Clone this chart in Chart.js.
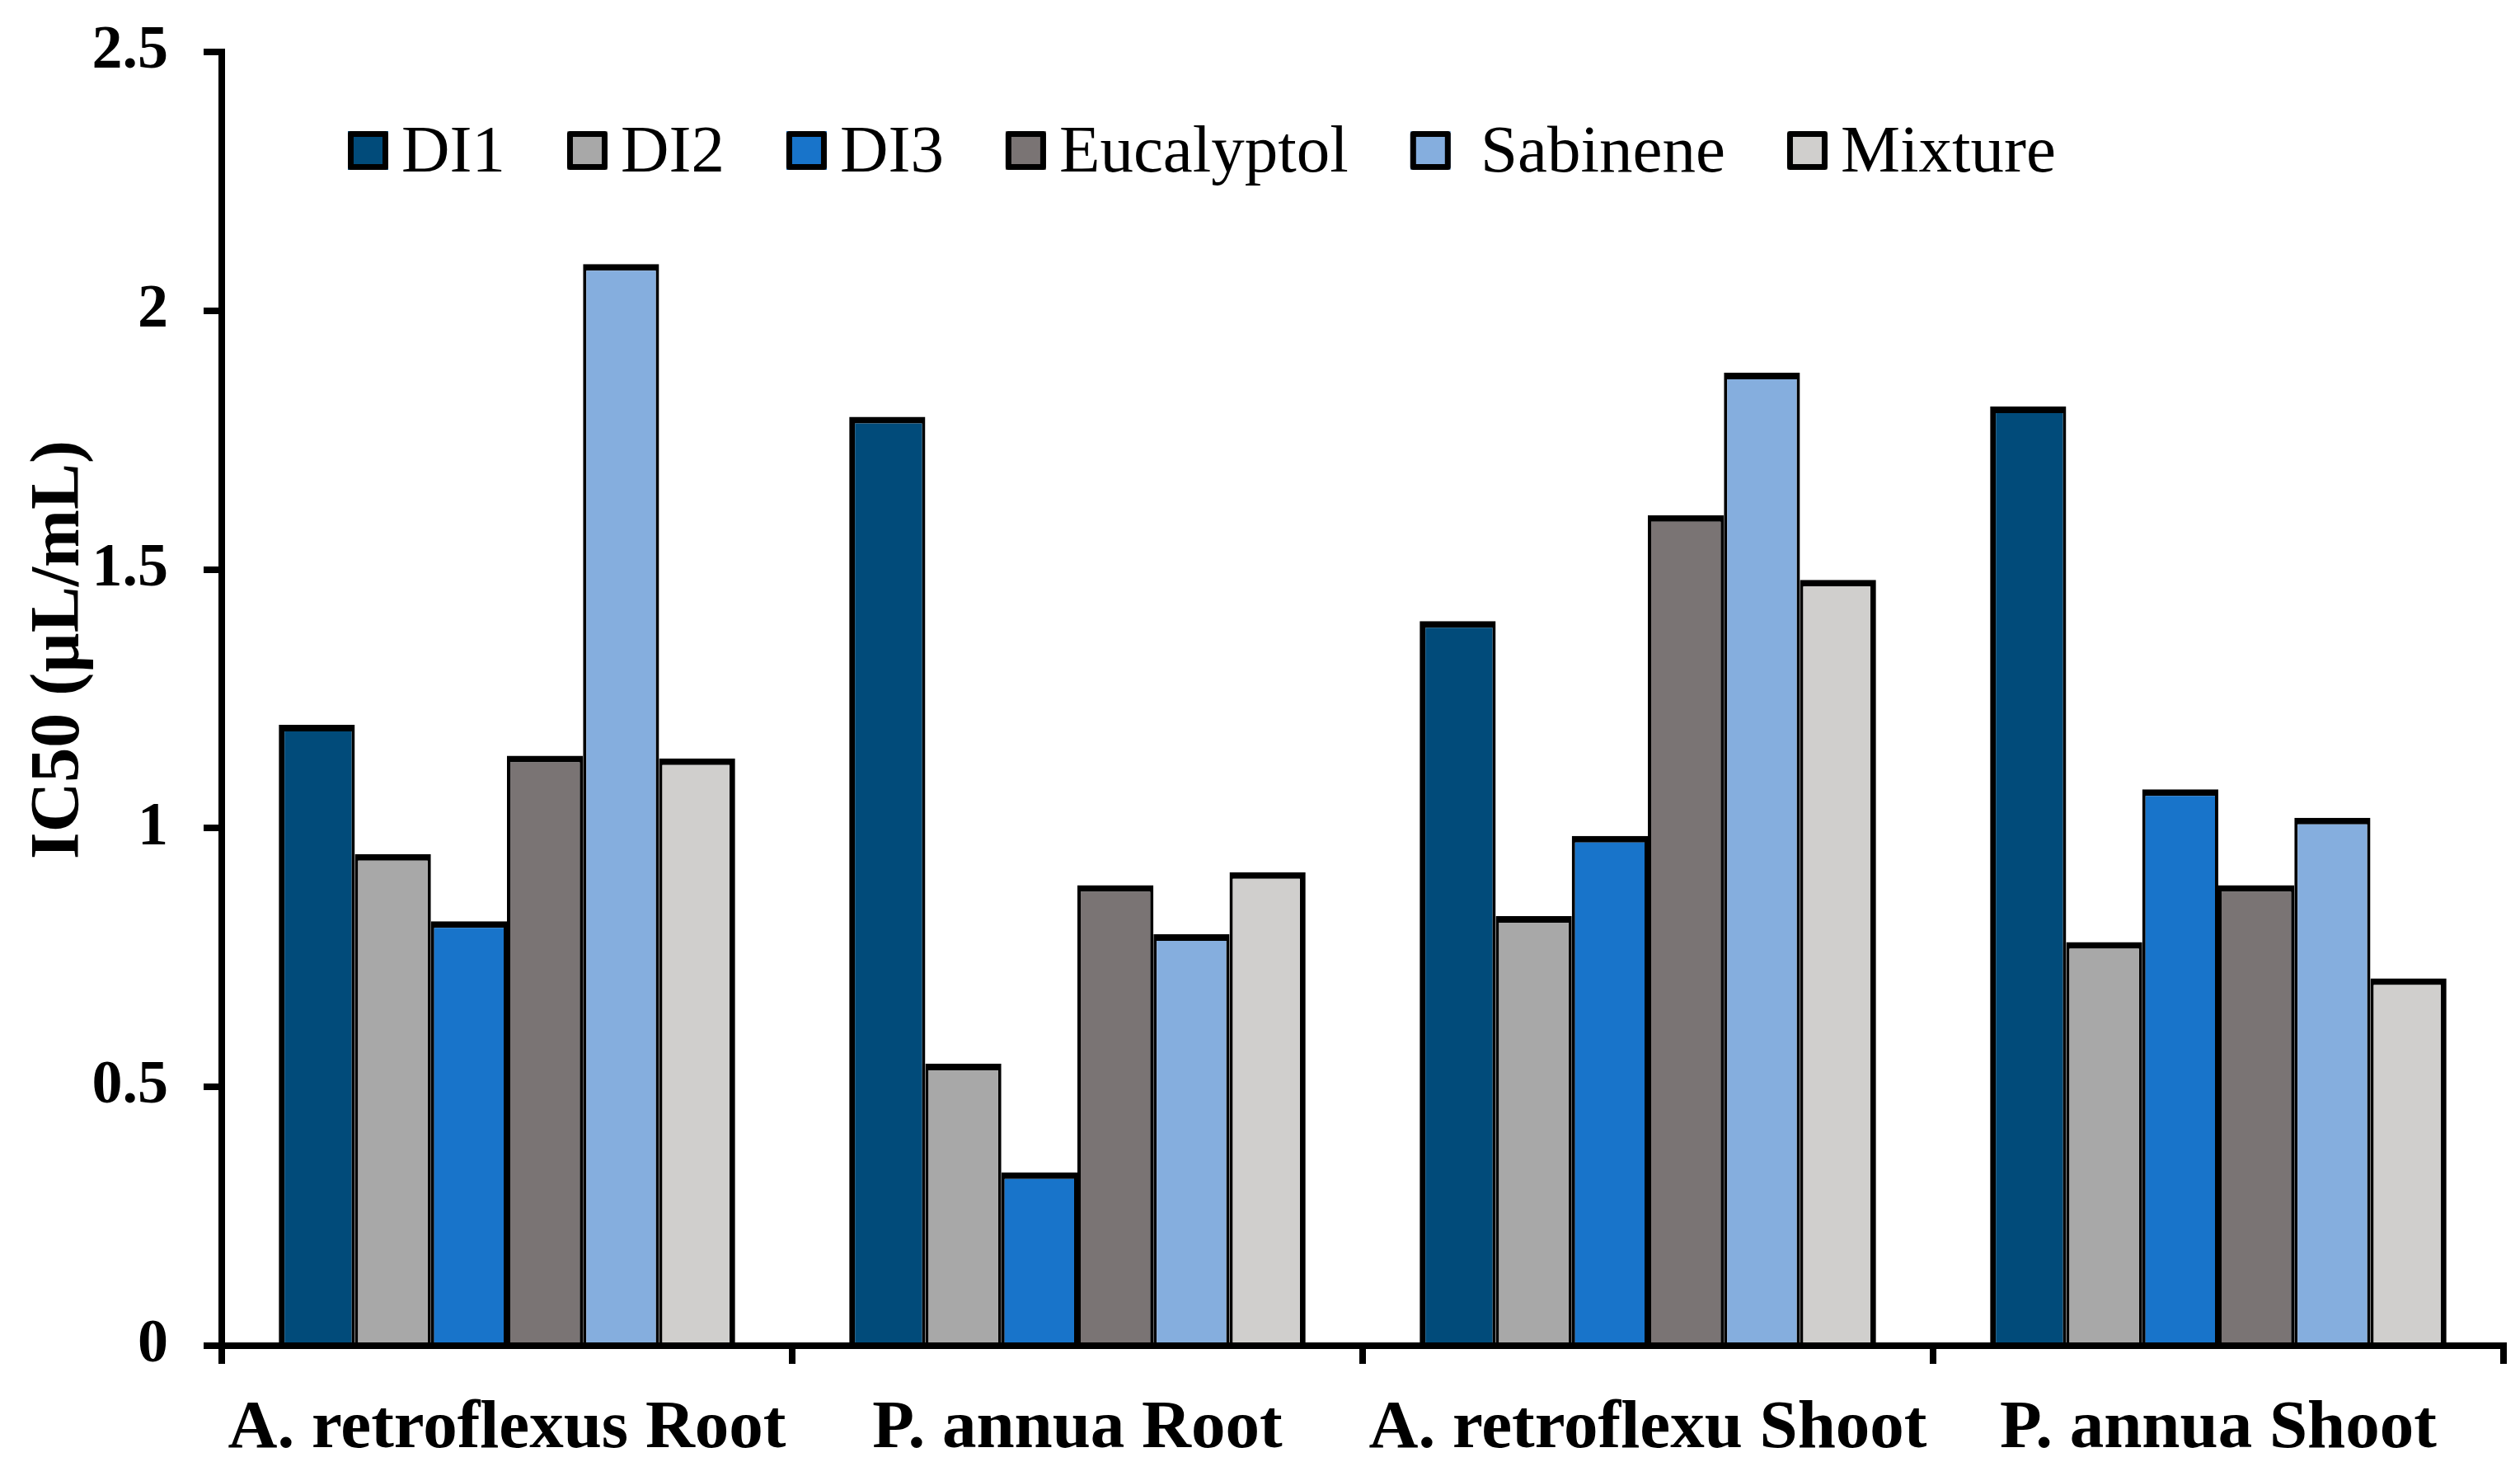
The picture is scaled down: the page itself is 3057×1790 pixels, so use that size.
<!DOCTYPE html>
<html>
<head>
<meta charset="utf-8">
<script src="https://cdn.jsdelivr.net/npm/chart.js@4.4.1/dist/chart.umd.min.js"></script>
<style>
  html, body { margin: 0; padding: 0; background: #ffffff; }
  #wrap { width: 3057px; height: 1790px; position: relative; }
</style>
</head>
<body>
<div id="wrap"><canvas id="c" width="3057" height="1790"></canvas></div>
<script>
// ---- data ----
const categories = ["A. retroflexus Root", "P. annua Root", "A. retroflexu Shoot", "P. annua Shoot"];
const seriesNames = ["DI1", "DI2", "DI3", "Eucalyptol", "Sabinene", "Mixture"];
const legendLabels = ["DI1", "DI2", "DI3", "Eucalyptol", " Sabinene", "Mixture"];
const DI1 = [1.20, 1.795, 1.40, 1.815];
const DI2 = [0.95, 0.545, 0.83, 0.78];
const DI3 = [0.82, 0.335, 0.985, 1.075];
const Eucalyptol = [1.14, 0.89, 1.605, 0.89];
const Sabinene = [2.09, 0.795, 1.88, 1.02];
const Mixture = [1.135, 0.915, 1.48, 0.71];
const yTicks = [0, 0.5, 1, 1.5, 2, 2.5];
const yTitle = "IC50 (\u00b5L/mL)";

const seriesValues = [DI1, DI2, DI3, Eucalyptol, Sabinene, Mixture];
const colors = ["#014B7A", "#A8A8A8", "#1874CA", "#7A7474", "#85AEDE", "#D0CFCD"];

const SERIF = "'Liberation Serif', 'Times New Roman', serif";

const datasets = seriesNames.map((name, i) => ({
  label: name,
  data: seriesValues[i],
  backgroundColor: colors[i],
  borderColor: "#000000",
  borderWidth: {
    top: 8,
    left: i === 0 ? 7 : 4,
    right: i === seriesNames.length - 1 ? 7 : 4,
    bottom: 0
  },
  borderSkipped: 'start',
  categoryPercentage: 0.8,
  barPercentage: 1.0
}));

const customLegend = {
  id: 'customLegend',
  afterDraw(chart) {
    const ctx = chart.ctx;
    ctx.save();
    ctx.font = "81px " + SERIF;
    ctx.textBaseline = 'alphabetic';
    ctx.textAlign = 'left';
    let x = 422;
    const boxTop = 159, boxW = 49, boxH = 47, lw = 7;
    chart.data.datasets.forEach((ds, i) => {
      ctx.fillStyle = ds.backgroundColor;
      ctx.fillRect(x, boxTop, boxW, boxH);
      ctx.lineWidth = lw;
      ctx.lineJoin = 'round';
      ctx.strokeStyle = '#000';
      ctx.strokeRect(x + lw / 2, boxTop + lw / 2, boxW - lw, boxH - lw);
      const tx = x + boxW + 16;
      ctx.fillStyle = '#000';
      const label = legendLabels[i];
      ctx.fillText(label, tx, 208);
      x = tx + ctx.measureText(label).width + 75;
    });
    ctx.restore();
  }
};

const yTitlePlugin = {
  id: 'yTitlePlugin',
  afterDraw(chart) {
    const ctx = chart.ctx;
    ctx.save();
    ctx.translate(95, 788);
    ctx.rotate(-Math.PI / 2);
    ctx.font = "bold 84px " + SERIF;
    ctx.fillStyle = '#000';
    ctx.textAlign = 'center';
    ctx.textBaseline = 'alphabetic';
    ctx.fillText(yTitle, 0, 0);
    ctx.restore();
  }
};

new Chart(document.getElementById('c'), {
  type: 'bar',
  data: { labels: categories, datasets: datasets },
  plugins: [customLegend, yTitlePlugin],
  options: {
    responsive: false,
    animation: false,
    devicePixelRatio: 1,
    layout: { padding: { top: 63, right: 20, left: 0, bottom: 0 } },
    plugins: {
      legend: { display: false },
      tooltip: { enabled: false },
      title: { display: false }
    },
    scales: {
      x: {
        offset: true,
        afterFit(s) { s.height = 158; s.paddingLeft = 0; s.paddingRight = 0; },
        border: { display: true, color: '#000', width: 8 },
        grid: {
          display: true, offset: true, drawOnChartArea: false, drawTicks: true,
          tickLength: 22, color: '#000', lineWidth: 8
        },
        ticks: {
          color: '#000',
          padding: 30,
          maxRotation: 0,
          minRotation: 0,
          autoSkip: false,
          font: { family: SERIF, size: 83, weight: 'bold' }
        }
      },
      y: {
        min: 0,
        max: 2.5,
        afterFit(s) { s.width = 269; s.paddingTop = 0; s.paddingBottom = 0; },
        afterBuildTicks(s) { s.ticks = yTicks.map(v => ({ value: v })); },
        border: { display: true, color: '#000', width: 8 },
        grid: {
          display: true, drawOnChartArea: false, drawTicks: true,
          tickLength: 22, color: '#000', lineWidth: 8
        },
        ticks: {
          color: '#000',
          padding: 43,
          callback: (v) => String(v),
          font: { family: SERIF, size: 74, weight: 'bold' }
        }
      }
    }
  }
});
</script>
</body>
</html>
